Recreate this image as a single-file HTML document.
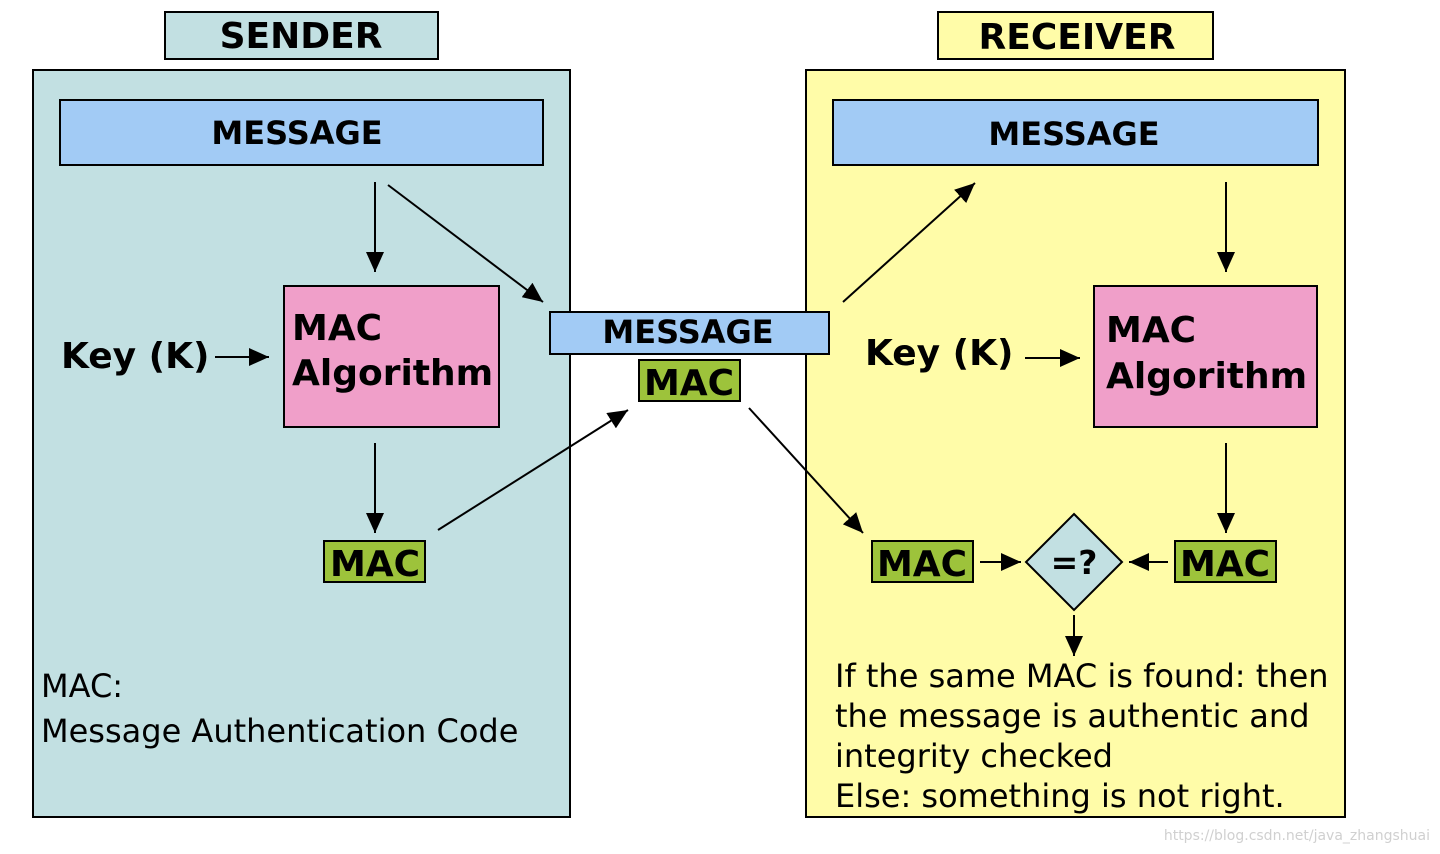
<!DOCTYPE html>
<html><head><meta charset="utf-8"><style>
html,body{margin:0;padding:0;background:#fff;}
svg{display:block;}
text{font-family:"DejaVu Sans","Liberation Sans",sans-serif;}
</style></head><body>
<svg width="1440" height="854" viewBox="0 0 1440 854" xmlns="http://www.w3.org/2000/svg">
<defs>
<marker id="h" viewBox="0 0 20 18" refX="20" refY="9" markerWidth="20" markerHeight="18" markerUnits="userSpaceOnUse" orient="auto"><path d="M0,0 L20,9 L0,18 z" fill="#000"/></marker>
</defs>
<g stroke="#000" stroke-width="2">
<rect x="165" y="12" width="273" height="47" fill="#c2e0e2"/>
<rect x="33" y="70" width="537" height="747" fill="#c2e0e2"/>
<rect x="938" y="12" width="275" height="47" fill="#fffca8"/>
<rect x="806" y="70" width="539" height="747" fill="#fffca8"/>
<rect x="60" y="100" width="483" height="65" fill="#a2cbf5"/>
<rect x="833" y="100" width="485" height="65" fill="#a2cbf5"/>
<rect x="284" y="286" width="215" height="141" fill="#f09fc9"/>
<rect x="1094" y="286" width="223" height="141" fill="#f09fc9"/>
<rect x="550" y="312" width="279" height="42" fill="#a2cbf5"/>
<rect x="639" y="360" width="101" height="41" fill="#9dc33b"/>
<rect x="324" y="541" width="101" height="41" fill="#9dc33b"/>
<rect x="872" y="541" width="101" height="41" fill="#9dc33b"/>
<rect x="1175" y="541" width="101" height="41" fill="#9dc33b"/>
<path d="M1074,514 L1122,562 L1074,610 L1026,562 Z" fill="#c2e0e2"/>
</g>
<g stroke="#000" stroke-width="2" fill="none" marker-end="url(#h)">
<line x1="375" y1="182" x2="375" y2="272"/>
<line x1="388" y1="185" x2="543" y2="302"/>
<line x1="215" y1="357" x2="269" y2="357"/>
<line x1="375" y1="443" x2="375" y2="533"/>
<line x1="438" y1="530" x2="628" y2="410"/>
<line x1="749" y1="408" x2="863" y2="533"/>
<line x1="843" y1="302" x2="975" y2="183"/>
<line x1="1226" y1="182" x2="1226" y2="272"/>
<line x1="1025" y1="358" x2="1080" y2="358"/>
<line x1="1226" y1="443" x2="1226" y2="533"/>
<line x1="980" y1="562" x2="1021" y2="562"/>
<line x1="1168" y1="562" x2="1129" y2="562"/>
<line x1="1074" y1="615" x2="1074" y2="656"/>
</g>
<g font-weight="bold" text-anchor="middle">
<text x="301" y="48" font-size="36">SENDER</text>
<text x="1077" y="49" font-size="36">RECEIVER</text>
<text x="297" y="144" font-size="32">MESSAGE</text>
<text x="1074" y="145" font-size="32">MESSAGE</text>
<text x="688" y="343" font-size="32">MESSAGE</text>
<text x="689" y="395" font-size="36">MAC</text>
<text x="375" y="576" font-size="36">MAC</text>
<text x="922" y="576" font-size="36">MAC</text>
<text x="1225" y="576" font-size="36">MAC</text>
<text x="1074" y="574" font-size="33">=?</text>
</g>
<g font-weight="bold" font-size="36">
<text x="292" y="340">MAC</text>
<text x="292" y="385">Algorithm</text>
<text x="1106" y="342">MAC</text>
<text x="1106" y="388">Algorithm</text>
<text x="61" y="368">Key (K)</text>
<text x="865" y="365">Key (K)</text>
</g>
<g font-size="32">
<text x="41" y="697">MAC:</text>
<text x="41" y="742">Message Authentication Code</text>
<text x="835" y="687">If the same MAC is found: then</text>
<text x="835" y="727">the message is authentic and</text>
<text x="835" y="767">integrity checked</text>
<text x="835" y="807">Else: something is not right.</text>
</g>
<text x="1430" y="840" font-size="14" fill="#d0d0d0" text-anchor="end">https://blog.csdn.net/java_zhangshuai</text>
</svg>
</body></html>
